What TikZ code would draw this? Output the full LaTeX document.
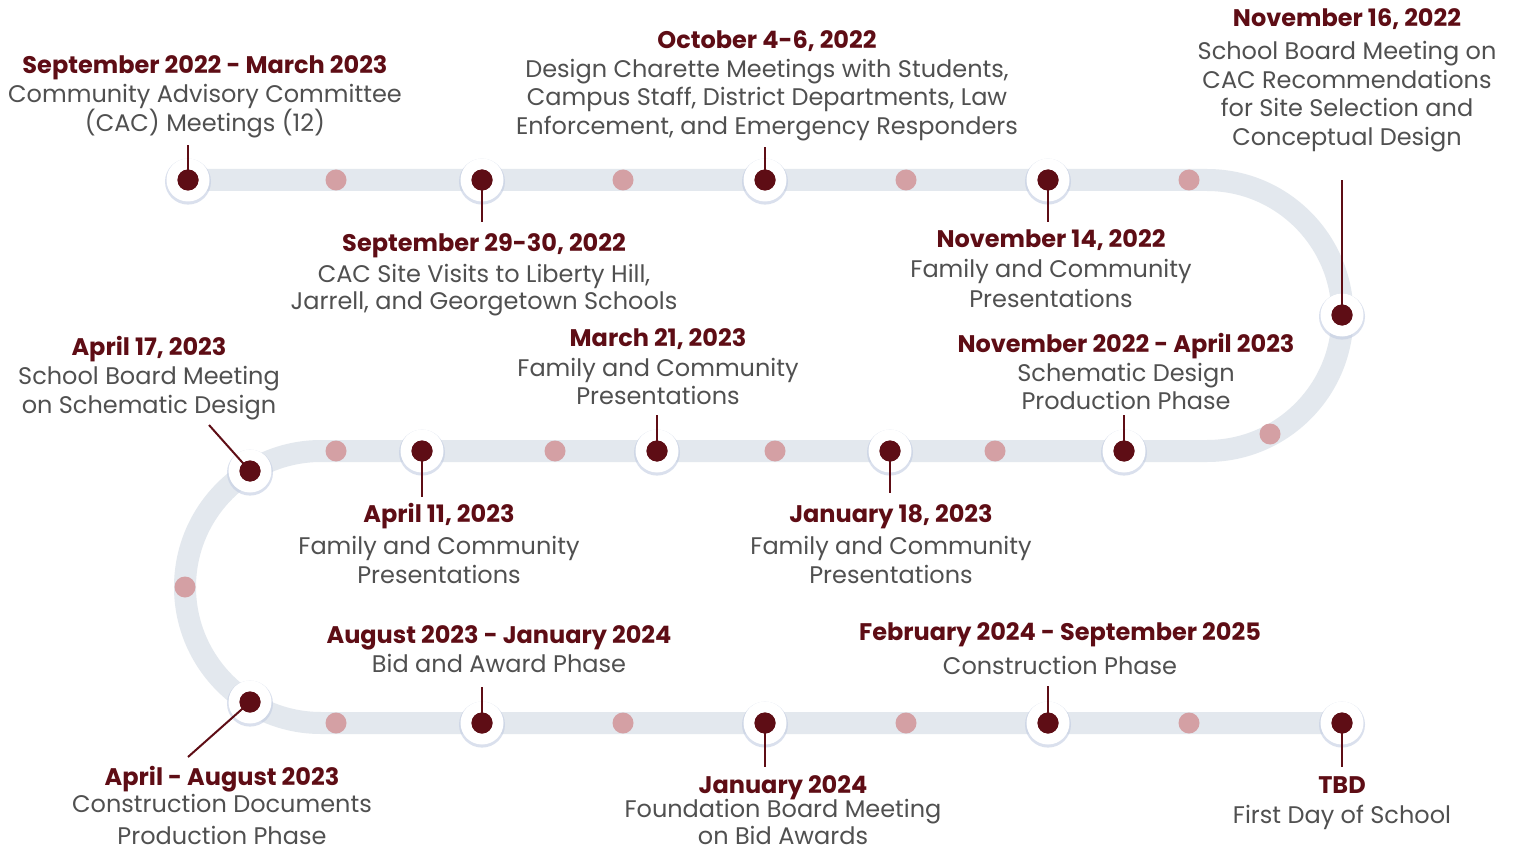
\documentclass[tikz,border=0pt]{standalone}
\usepackage{fontspec}
\setmainfont{Poppins}
\usetikzlibrary{shadows}
\definecolor{maroon}{HTML}{5E0D15}
\definecolor{txtgrey}{HTML}{505050}
\definecolor{trackc}{HTML}{E3E8EE}
\definecolor{pinkdot}{HTML}{D4A0A4}
\definecolor{shadowc}{HTML}{C2CCE2}
\newcommand{\tightlines}{\setlength{\lineskiplimit}{-20pt}\setlength{\lineskip}{0pt}}
\newcommand{\lblfont}{\fontsize{24}{29}\selectfont\tightlines}
\begin{document}
\begin{tikzpicture}[x=1pt,y=-1pt,
  halo/.style={circle,fill=white,minimum size=43pt,inner sep=0pt,
    drop shadow={shadow xshift=0pt,shadow yshift=-1.5pt,fill=shadowc,opacity=.6,shadow scale=1.07}},
  mdot/.style={circle,fill=maroon,minimum size=21pt,inner sep=0pt},
  pdot/.style={circle,fill=pinkdot,minimum size=21pt,inner sep=0pt},
  stem/.style={draw=maroon,line width=2pt},
  trackline/.style={draw=trackc,line width=22pt},
  lbl/.style={align=center,anchor=base,font=\lblfont,text=txtgrey,inner sep=0pt}]
\useasboundingbox (0,0) rectangle (1517,850);
\fill[white] (0,0) rectangle (1517,850);
% track
\draw[trackline] (188,180) -- (1207,180) arc[start angle=-90,end angle=90,radius=135.5]
  -- (321,451) arc[start angle=270,end angle=90,radius=136] -- (1342,723);
% pink dots
\foreach \x/\y [count=\i] in {336/180,623/180,906/180,1189/180,1270/434,995/451,775/451,555/451,336/451,185/587,336/723,623/723,906/723,1189/723}
  \node[pdot] (p\i) at (\x,\y) {};
% milestones
\foreach \x/\y [count=\i] in {188/180,482/180,765/180,1048/180,1342/315,1124/451,890/451,657/451,422/451,250/471,250/702,482/723,765/723,1048/723,1342/723}{
  \node[halo] (h\i) at (\x,\y) {};
  \node[mdot] (d\i) at (\x,\y) {};
}
% stem ends
\coordinate (s1) at (188,145);
\coordinate (s2) at (482,222);
\coordinate (s3) at (765,147);
\coordinate (s4) at (1048,222);
\coordinate (s5) at (1342,180);
\coordinate (s6) at (1124,415);
\coordinate (s7) at (890,493);
\coordinate (s8) at (657,415);
\coordinate (s9) at (422,497);
\coordinate (s10) at (209,425);
\coordinate (s11) at (188,757);
\coordinate (s12) at (482,687);
\coordinate (s13) at (765,767);
\coordinate (s14) at (1048,686);
\coordinate (s15) at (1342,767);
\foreach \i in {1,...,15} \draw[stem] (d\i.center) -- (s\i);
\foreach \i in {1,...,15} \node[mdot] at (d\i) {};
% labels (anchored at the baseline of their last line)
\node[lbl] (l1) at (205,132) {{\color{maroon}\bfseries September 2022 - March 2023}\\Community Advisory Committee\\(CAC) Meetings (12)};
\node[lbl] (l2) at (767,135) {{\color{maroon}\bfseries October 4-6, 2022}\\Design Charette Meetings with Students,\\[-1pt]Campus Staff, District Departments, Law\\Enforcement, and Emergency Responders};
\node[lbl] (l3) at (1347,146) {{\color{maroon}\bfseries November 16, 2022}\\[4pt]School Board Meeting on\\CAC Recommendations\\[-1pt]for Site Selection and\\Conceptual Design};
\node[lbl] (l4) at (484,309) {{\color{maroon}\bfseries September 29-30, 2022}\\[2pt]CAC Site Visits to Liberty Hill,\\[-2pt]Jarrell, and Georgetown Schools};
\node[lbl] (l5) at (1051,307) {{\color{maroon}\bfseries November 14, 2022}\\Family and Community\\[1pt]Presentations};
\node[lbl] (l6) at (149,413) {{\color{maroon}\bfseries April 17, 2023}\\School Board Meeting\\on Schematic Design};
\node[lbl] (l7) at (658,404) {{\color{maroon}\bfseries March 21, 2023}\\[1pt]Family and Community\\[-1pt]Presentations};
\node[lbl] (l8) at (1126,409) {{\color{maroon}\bfseries November 2022 - April 2023}\\Schematic Design\\[-1pt]Production Phase};
\node[lbl] (l9) at (439,583) {{\color{maroon}\bfseries April 11, 2023}\\[3pt]Family and Community\\Presentations};
\node[lbl] (l10) at (891,583) {{\color{maroon}\bfseries January 18, 2023}\\[3pt]Family and Community\\Presentations};
\node[lbl] (l11) at (499,672) {{\color{maroon}\bfseries August 2023 - January 2024}\\Bid and Award Phase};
\node[lbl] (l12) at (1060,674) {{\color{maroon}\bfseries February 2024 - September 2025}\\[5pt]Construction Phase};
\node[lbl] (l13) at (222,844) {{\color{maroon}\bfseries April - August 2023}\\[-2pt]Construction Documents\\[3pt]Production Phase};
\node[lbl] (l14) at (783,844) {{\color{maroon}\bfseries January 2024}\\[-5pt]Foundation Board Meeting\\[-2pt]on Bid Awards};
\node[lbl] (l15) at (1342,823) {{\color{maroon}\bfseries TBD}\\[1pt]First Day of School};
\end{tikzpicture}
\end{document}
